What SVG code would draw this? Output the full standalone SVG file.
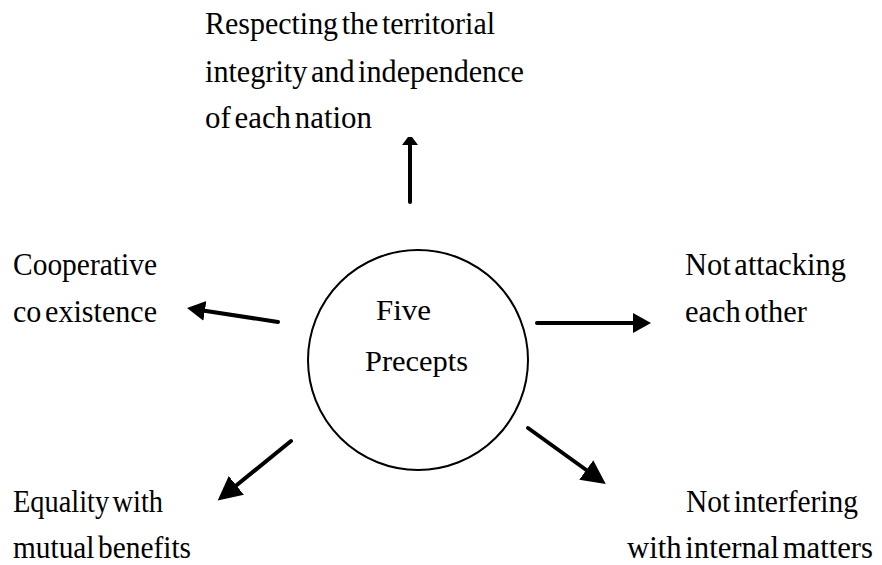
<svg xmlns="http://www.w3.org/2000/svg" width="882" height="565" viewBox="0 0 882 565">
<style>
text{font-family:'Liberation Serif',serif;font-size:31px;fill:#000;word-spacing:-4px}
.m{font-size:30px;word-spacing:0}
.c{fill:none;stroke:#000;stroke-width:4;stroke-linecap:round}
</style>
<defs>
<marker id="ah" markerWidth="6" markerHeight="6" refX="3" refY="3" orient="auto" markerUnits="strokeWidth">
<path d="M0,0.5 L4.5,3 L0,5.5 Z" fill="#000"/>
</marker>
<marker id="ahb" markerWidth="7" markerHeight="7" refX="3" refY="3.5" orient="auto" markerUnits="strokeWidth">
<path d="M0,0.5 L6,3.5 L0,6.5 Z" fill="#000"/>
</marker>
<marker id="ahf" markerWidth="6" markerHeight="6" refX="1" refY="3" orient="auto" markerUnits="strokeWidth">
<path d="M0,1 L2,2.5 L2,3.5 L0,5 Z" fill="#000"/>
</marker>
</defs>
<rect width="882" height="565" fill="#fff"/>
<g id="center"><circle cx="418" cy="360" r="110" fill="none" stroke="#000" stroke-width="2"/>
<text class="m" x="376" y="320" textLength="55" lengthAdjust="spacingAndGlyphs">Five</text>
<text class="m" x="365" y="371" textLength="103" lengthAdjust="spacingAndGlyphs">Precepts</text></g>
<g id="n-top">
<text x="205" y="34" textLength="290" lengthAdjust="spacingAndGlyphs">Respecting the territorial</text>
<text x="205" y="82" textLength="319" lengthAdjust="spacingAndGlyphs">integrity and independence</text>
<text x="205" y="128" textLength="167" lengthAdjust="spacingAndGlyphs">of each nation</text></g>
<g id="n-left">
<text x="13" y="275" textLength="144" lengthAdjust="spacingAndGlyphs">Cooperative</text>
<text x="13" y="322" textLength="144" lengthAdjust="spacingAndGlyphs">co existence</text></g>
<g id="n-right">
<text x="685" y="275" textLength="161" lengthAdjust="spacingAndGlyphs">Not attacking</text>
<text x="685" y="322" textLength="122" lengthAdjust="spacingAndGlyphs">each other</text></g>
<g id="n-ll">
<text x="13" y="512" textLength="150" lengthAdjust="spacingAndGlyphs">Equality with</text>
<text x="13" y="558" textLength="178" lengthAdjust="spacingAndGlyphs">mutual benefits</text></g>
<g id="n-lr">
<text x="686" y="512" textLength="172" lengthAdjust="spacingAndGlyphs">Not interfering</text>
<text x="627" y="558" textLength="246" lengthAdjust="spacingAndGlyphs">with internal matters</text></g>
<g id="connectors">
<path class="c" d="M410,202 L410,141" marker-end="url(#ahf)"/>
<path class="c" d="M278,322 L193,309" marker-end="url(#ah)"/>
<path class="c" d="M537,323 L645,323" marker-end="url(#ah)"/>
<path class="c" d="M291,441 L227,493" marker-end="url(#ahb)"/>
<path class="c" d="M528,428 L596,477" marker-end="url(#ahb)"/>
</g>
</svg>
